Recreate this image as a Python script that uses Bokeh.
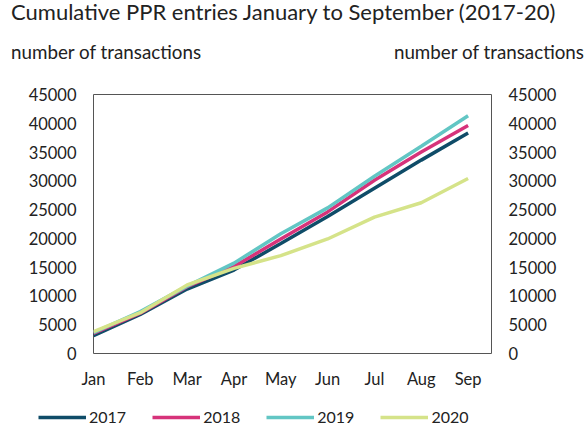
from bokeh.plotting import figure
from bokeh.models import (Range1d, LinearAxis, FixedTicker, Legend, LegendItem, Div)
from bokeh.layouts import column
from bokeh.embed import file_html
from bokeh.resources import INLINE

months = ["Jan", "Feb", "Mar", "Apr", "May", "Jun", "Jul", "Aug", "Sep"]
y2017 = [3100, 6800, 11200, 14500, 19100, 23800, 28700, 33600, 38300]
y2018 = [3500, 7000, 11600, 15100, 19900, 24600, 30100, 35000, 39600]
y2019 = [3600, 7300, 11700, 15700, 20800, 25300, 30800, 36000, 41300]
y2020 = [3800, 7100, 11900, 14800, 17000, 19900, 23700, 26200, 30400]
series = [("2017", y2017, "#0f4c68"), ("2018", y2018, "#d6337a"),
          ("2019", y2019, "#62c6c4"), ("2020", y2020, "#d5e389")]
yticks = list(range(0, 45001, 5000))
title_text = "Cumulative PPR entries January to September (2017-20)"
axis_title = "number of transactions"

FONT = "Lato"
TXT = "#222222"

header = Div(width=579, height=70, text=(
    f'<div style="position:relative;width:579px;height:70px;font-family:Lato;color:{TXT};">'
    f'<div style="position:absolute;left:6px;top:0px;font-size:22px;line-height:14px;white-space:nowrap;">{title_text}</div>'
    f'<div style="position:absolute;left:6px;top:36px;font-size:18.8px;line-height:22px;white-space:nowrap;">{axis_title}</div>'
    f'<div style="position:absolute;right:0px;top:36px;font-size:18.8px;line-height:22px;white-space:nowrap;">{axis_title}</div>'
    '</div>'))

p = figure(width=571, height=328, output_backend="svg", toolbar_location=None,
           x_range=Range1d(0, 8.5), y_range=Range1d(0, 45000),
           min_border_left=93, min_border_right=80, min_border_top=14, min_border_bottom=55)
p.grid.visible = False
p.outline_line_color = "#555555"
p.outline_line_width = 1
p.background_fill_color = "white"
p.border_fill_color = "white"

xs = list(range(len(months)))
for name, ys, col in series:
    p.line(xs, ys, line_color=col, line_width=3.5)

p.xaxis.ticker = FixedTicker(ticks=xs)
p.xaxis.major_label_overrides = {i: m for i, m in enumerate(months)}
p.yaxis.ticker = FixedTicker(ticks=yticks)
p.add_layout(LinearAxis(ticker=FixedTicker(ticks=yticks)), "right")

for ax in p.axis:
    ax.axis_line_color = None
    ax.major_tick_line_color = None
    ax.minor_tick_line_color = None
    ax.major_tick_out = 0
    ax.major_label_text_font = FONT
    ax.major_label_text_font_size = "16.5px"
    ax.major_label_text_color = TXT
p.xaxis.major_label_standoff = 15
p.yaxis.major_label_standoff = 17

# legend strip below the chart (series drawn off-view only to serve as legend proxies)
pl = figure(width=571, height=20, frame_width=571, frame_height=20,
            output_backend="svg", toolbar_location=None,
            x_range=Range1d(0, 1), y_range=Range1d(-2, -1),
            min_border=0, min_border_left=0, min_border_right=0,
            min_border_top=0, min_border_bottom=0)
pl.axis.visible = False
pl.grid.visible = False
pl.outline_line_color = None
items = []
for name, ys, col in series:
    r = pl.line(xs, ys, line_color=col, line_width=3.5)
    items.append(LegendItem(label=name, renderers=[r]))
legend = Legend(items=items, orientation="horizontal", location=(38, 2),
                glyph_width=48, glyph_height=16, label_standoff=3, spacing=26,
                label_text_font=FONT, label_text_font_size="16px", label_text_color=TXT,
                border_line_color=None, background_fill_alpha=0, padding=0, margin=0)
pl.add_layout(legend)

layout = column(header, p, pl, spacing=0)
open("out.html", "w").write(file_html(layout, INLINE))
